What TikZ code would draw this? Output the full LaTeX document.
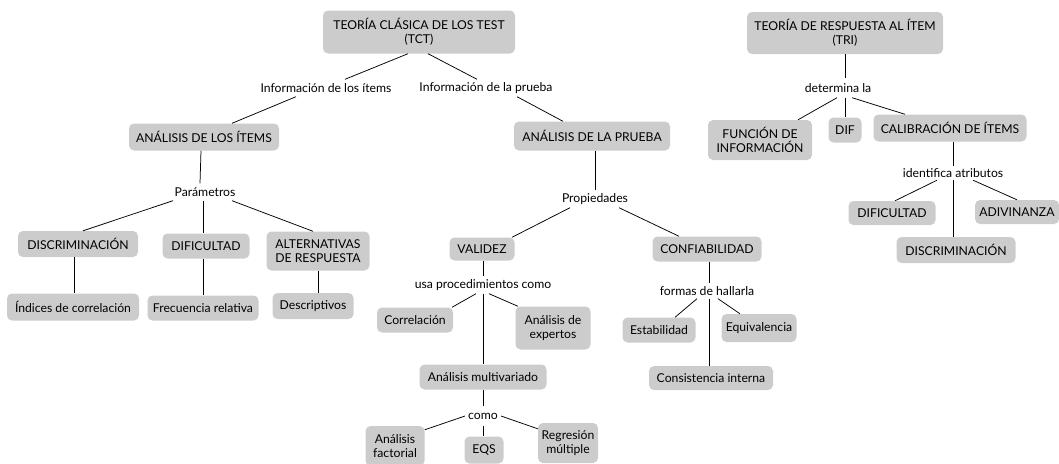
\documentclass[tikz,border=0pt]{standalone}
\usepackage{fontspec}
\setmainfont{Lato}
\definecolor{boxgray}{RGB}{204,204,204}
\begin{document}
\begin{tikzpicture}[x=1pt,y=-1pt,
  every node/.style={font=\fontsize{12.2}{14}\selectfont},
  bx/.style={fill=boxgray, rounded corners=5pt, inner sep=1pt, align=center},
  lbl/.style={inner xsep=3pt, inner ysep=0pt, minimum height=17pt},
  conn/.style={line width=0.75pt}]
\useasboundingbox (0,0) rectangle (1059,463);
% ---- TCT tree
\node[bx, minimum width=192pt, minimum height=43pt] (tct) at (419,32) {TEORÍA CLÁSICA DE LOS TEST\\(TCT)};
\node[lbl] (infI) at (326,88) {Información de los ítems};
\node[lbl] (infP) at (486,88) {Información de la prueba};
\node[bx, minimum width=150pt, minimum height=27pt] (aitems) at (204,137) {ANÁLISIS DE LOS ÍTEMS};
\node[bx, minimum width=156pt, minimum height=29pt] (aprueba) at (592,136) {ANÁLISIS DE LA PRUEBA};
% left branch
\node[lbl] (param) at (205,192) {Parámetros};
\node[bx, minimum width=120pt, minimum height=26pt] (disc) at (78,244) {DISCRIMINACIÓN};
\node[bx, minimum width=87pt, minimum height=25pt] (dific) at (206,246) {DIFICULTAD};
\node[bx, minimum width=103pt, minimum height=39pt] (alt) at (318,251) {ALTERNATIVAS\\DE RESPUESTA};
\node[bx, minimum width=132pt, minimum height=27pt] (ind) at (73,307) {Índices de correlación};
\node[bx, minimum width=111pt, minimum height=25pt] (frec) at (203,308) {Frecuencia relativa};
\node[bx, minimum width=81pt, minimum height=26pt] (desc) at (313,306) {Descriptivos};
% middle branch
\node[lbl] (prop) at (595,199) {Propiedades};
\node[bx, minimum width=65pt, minimum height=23pt] (val) at (482,249) {VALIDEZ};
\node[bx, minimum width=109pt, minimum height=25pt] (conf) at (707,249) {CONFIABILIDAD};
\node[lbl] (usa) at (483,285) {usa procedimientos como};
\node[bx, minimum width=76pt, minimum height=25pt] (corr) at (415,320) {Correlación};
\node[bx, minimum width=75pt, minimum height=43pt] (exp) at (553,328) {Análisis de\\expertos};
\node[bx, minimum width=127pt, minimum height=25pt] (multi) at (483,377) {Análisis multivariado};
\node[lbl, minimum height=20pt] (como) at (483,416) {como};
\node[bx, minimum width=59pt, minimum height=40pt] (fact) at (395,446) {Análisis\\factorial};
\node[bx, minimum width=39pt, minimum height=27pt] (eqs) at (484,450) {EQS};
\node[bx, minimum width=60pt, minimum height=40pt] (reg) at (568,443) {Regresión\\múltiple};
\node[lbl, minimum height=15pt] (formas) at (707,291) {formas de hallarla};
\node[bx, minimum width=73pt, minimum height=25pt] (estab) at (659,330) {Estabilidad};
\node[bx, minimum width=75pt, minimum height=28pt] (equiv) at (759,328) {Equivalencia};
\node[bx, minimum width=124pt, minimum height=24pt] (cons) at (711,378) {Consistencia interna};
% ---- TRI tree
\node[bx, minimum width=196pt, minimum height=42pt] (tri) at (845,33) {TEORÍA DE RESPUESTA AL ÍTEM\\(TRI)};
\node[lbl, minimum height=19pt] (det) at (838,88) {determina la};
\node[bx, minimum width=104pt, minimum height=40pt] (func) at (760,140) {FUNCIÓN DE\\INFORMACIÓN};
\node[bx, minimum width=33pt, minimum height=25pt] (dif) at (845,130) {DIF};
\node[bx, minimum width=153pt, minimum height=27pt] (calib) at (950,128) {CALIBRACIÓN DE ÍTEMS};
\node[lbl, minimum height=14pt] (ident) at (953,173) {identifica atributos};
\node[bx, minimum width=87pt, minimum height=24pt] (difT) at (892,213) {DIFICULTAD};
\node[bx, minimum width=84pt, minimum height=24pt] (adiv) at (1017,212) {ADIVINANZA};
\node[bx, minimum width=119pt, minimum height=26pt] (discT) at (956,250) {DISCRIMINACIÓN};
% ---- connectors
\draw[conn] ([xshift=-11pt]tct.south) -- ([xshift=19pt]infI.north);
\draw[conn] ([xshift=-30pt]infI.south) -- ([xshift=28pt]aitems.north);
\draw[conn] ([xshift=9pt]tct.south) -- ([xshift=-9pt]infP.north);
\draw[conn] ([xshift=31pt]infP.south) -- ([xshift=-29pt]aprueba.north);
\draw[conn] ([xshift=-3pt]aitems.south) -- ([xshift=-5pt]param.north);
\draw[conn] ([xshift=-32pt]param.south) -- ([xshift=5pt]disc.north);
\draw[conn] ([xshift=-2pt]param.south) -- ([xshift=-3pt]dific.north);
\draw[conn] ([xshift=27pt]param.south) -- ([xshift=-5pt]alt.north);
\draw[conn] ([xshift=-4pt]disc.south) -- ([xshift=1pt]ind.north);
\draw[conn] ([xshift=-3pt]dific.south) -- (frec.north);
\draw[conn] (alt.south) -- ([xshift=5pt]desc.north);
\draw[conn] ([xshift=3pt]aprueba.south) -- (prop.north);
\draw[conn] ([xshift=-25pt]prop.south) -- ([xshift=30pt]val.north);
\draw[conn] ([xshift=24pt]prop.south) -- ([xshift=-28pt]conf.north);
\draw[conn] ([xshift=1pt]val.south) -- (usa.north);
\draw[conn] ([xshift=-7pt]usa.south) -- ([xshift=37pt]corr.north);
\draw[conn] ([xshift=6pt]usa.south) -- ([xshift=-35pt]exp.north);
\draw[conn] (usa.south) -- (multi.north);
\draw[conn] (multi.south) -- (como.north);
\draw[conn] (como.west) -- ([yshift=-4pt]fact.north east);
\draw[conn] (como.south) -- ([xshift=-1pt]eqs.north);
\draw[conn] (como.east) -- ([yshift=-6pt]reg.north west);
\draw[conn] ([xshift=2pt]conf.south) -- ([xshift=2pt]formas.north);
\draw[conn] ([xshift=-10pt]formas.south) -- ([xshift=16pt]estab.north);
\draw[conn] ([xshift=11pt]formas.south) -- ([xshift=-19pt]equiv.north);
\draw[conn] ([xshift=2pt]formas.south) -- ([xshift=-2pt]cons.north);
\draw[conn] (tri.south) -- ([xshift=7pt]det.north);
\draw[conn] ([xshift=-1pt]det.south) -- ([xshift=38pt]func.north);
\draw[conn] ([xshift=7pt]det.south) -- (dif.north);
\draw[conn] ([xshift=14pt]det.south) -- ([xshift=-45pt]calib.north);
\draw[conn] ([xshift=3pt]calib.south) -- (ident.north);
\draw[conn] ([xshift=-16pt]ident.south) -- ([xshift=3pt]difT.north);
\draw[conn] ([xshift=20pt]ident.south) -- (adiv.north);
\draw[conn] (ident.south) -- ([xshift=-3pt]discT.north);
\end{tikzpicture}
\end{document}
